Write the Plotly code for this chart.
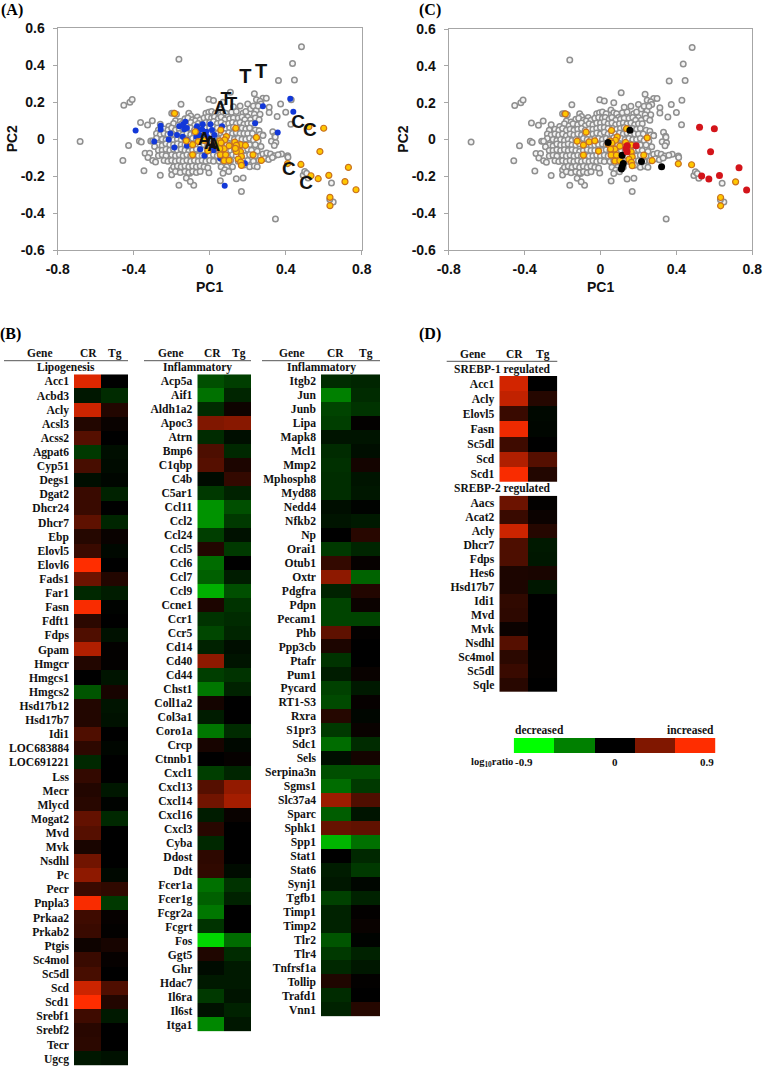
import plotly.graph_objects as go

W, H = 764, 1072

# ---------- scatter data ----------
gray_points = [
(.483,.50),(.436,.41),(.446,.32),(.362,.317),(-.162,.432),(.429,.213),(.40,.146),(.355,.122),(.373,.19),(.313,.173),(.313,.144),
(-.452,.184),(-.42,.2),(-.408,.214),(.109,.254),(.235,.246),(.246,.213),(.28,.222),(.298,.222),(.265,.205),(.27,.19),
(-.004,.216),(.02,.209),(.07,.2),(-.151,.189),(-.2,.14),(-.364,.09),(-.327,.077),(-.302,.1),(.427,.08),(.332,.04),(.343,.018),(.28,.023),(.255,.045),
(.325,-.012),(.348,-.018),(.34,-.034),(.345,.012),(-.682,-.013),(-.427,-.034),(-.457,-.115),(-.37,-.01),(-.36,-.016),(-.31,-.01),
(-.34,-.076),(-.316,-.076),(-.325,-.1),(-.30,-.115),(-.285,-.124),(-.346,-.171),(-.26,-.196),(-.2,-.166),(-.2,-.193),(-.162,-.249),(-.084,-.249),
(-.123,-.21),(-.102,-.229),(-.105,-.184),(-.004,-.182),(.056,-.225),(.167,-.283),(.14,-.214),(.176,-.21),(.346,-.432),(.641,-.238),(.65,-.34),(.632,-.327),
(.492,-.196),(.5,-.175),(.518,-.21),(.51,-.185),(.378,-.08),(.41,-.09),(.412,-.098),
(-.19,.14),(-.175,.135),(-.11,.14),(-.10,.125),(-.065,.12),(-.02,.14),(-.005,.145),(.01,.15),(.03,.14),(.055,.16),(.07,.145),(.085,.14),(.115,.145),(.14,.15),(.16,.18),(.175,.14),(.2,.19),(.19,.15),(.215,.165),(.23,.18),(.245,.155),(.265,.135),(.235,.135),(.255,.18),(.2,.12),(.125,.175),(.095,.12),
(-.18,.1),(-.155,.095),(-.13,.11),(-.115,.115),(-.09,.105),(-.075,.1),(-.05,.105),(-.03,.115),(-.01,.12),(.01,.115),(.025,.12),(.045,.11),(.06,.12),(.08,.105),(.105,.11),(.125,.115),(.15,.115),(.17,.12),(.185,.105),(.215,.105),(.24,.115),(.26,.105),
(-.26,.08),(-.215,.07),(-.19,.085),(-.165,.075),(-.145,.085),(-.12,.08),(-.1,.09),(-.08,.075),(-.06,.085),(-.04,.08),(-.02,.09),(0,.09),(.02,.095),(.04,.085),(.06,.09),(.08,.08),(.1,.085),(.12,.09),(.14,.085),(.16,.09),(.18,.08),(.2,.085),(.22,.085),
(-.27,.05),(-.24,.055),(-.22,.05),(-.2,.06),(-.18,.05),(-.16,.055),(-.14,.05),(-.12,.055),(-.1,.06),(-.08,.05),(-.06,.055),(-.04,.055),(-.02,.06),(0,.065),(.02,.065),(.04,.06),(.065,.06),(.085,.055),(.105,.06),(.125,.065),(.15,.06),(.17,.06),(.19,.055),(.21,.06),(.24,.05),(.26,.045),
(-.28,.03),(-.26,.025),(-.24,.03),(-.22,.025),(-.2,.03),(-.18,.02),(-.16,.03),(-.14,.025),(-.12,.03),(-.1,.025),(-.08,.03),(-.06,.025),(-.04,.03),(-.02,.035),(0,.03),(.02,.04),(.04,.03),(.06,.03),(.08,.03),(.1,.035),(.12,.03),(.14,.035),(.16,.03),(.18,.03),(.2,.03),(.225,.03),(.265,.025),(.28,.02),
(-.28,.005),(-.25,0),(-.23,-.005),(-.21,0),(-.19,-.005),(-.17,0),(-.15,-.005),(-.13,0),(-.11,-.005),(-.09,.005),(-.07,0),(-.05,0),(-.03,.005),(-.01,.005),(.01,0),(.03,.005),(.05,0),(.07,.01),(.09,.005),(.11,.005),(.13,0),(.15,.005),(.17,0),(.19,0),(.21,.005),(.23,-.005),(.255,-.01),
(-.3,-.01),(-.27,-.03),(-.25,-.035),(-.23,-.025),(-.21,-.03),(-.19,-.03),(-.17,-.025),(-.15,-.03),(-.13,-.03),(-.11,-.025),(-.09,-.035),(-.07,-.03),(-.05,-.03),(-.03,-.03),(-.01,-.03),(.01,-.025),(.03,-.03),(.05,-.025),(.07,-.035),(.09,-.03),(.11,-.03),(.13,-.025),(.15,-.03),(.17,-.03),(.19,-.03),(.21,-.03),(.24,-.03),(.27,-.04),
(-.29,-.04),(-.27,-.06),(-.25,-.06),(-.23,-.055),(-.21,-.06),(-.19,-.055),(-.17,-.06),(-.15,-.055),(-.13,-.06),(-.11,-.065),(-.09,-.06),(-.07,-.055),(-.05,-.06),(-.03,-.06),(-.01,-.055),(.01,-.06),(.03,-.055),(.05,-.06),(.07,-.055),(.09,-.06),(.11,-.06),(.13,-.055),(.15,-.06),(.18,-.06),(.2,-.055),(.22,-.06),(.25,-.065),
(-.27,-.09),(-.25,-.085),(-.23,-.09),(-.2,-.085),(-.18,-.09),(-.16,-.085),(-.14,-.09),(-.12,-.085),(-.1,-.09),(-.08,-.085),(-.06,-.09),(-.04,-.09),(-.02,-.085),(0,-.09),(.02,-.085),(.04,-.09),(.06,-.085),(.08,-.09),(.1,-.09),(.12,-.085),(.14,-.09),(.17,-.085),(.19,-.09),(.21,-.085),(.24,-.09),(.28,-.08),(.3,-.075),(.32,-.08),(.34,-.09),(.36,-.085),
(-.24,-.115),(-.22,-.12),(-.2,-.115),(-.18,-.12),(-.16,-.115),(-.14,-.12),(-.12,-.115),(-.1,-.12),(-.08,-.115),(-.06,-.12),(-.04,-.115),(-.02,-.12),(0,-.115),(.02,-.12),(.05,-.12),(.07,-.115),(.09,-.12),(.11,-.115),(.15,-.12),(.2,-.115),(.23,-.12),(.26,-.115),(.29,-.105),(.31,-.11),(.33,-.1),
(-.19,-.15),(-.17,-.145),(-.15,-.15),(-.13,-.145),(-.11,-.15),(-.09,-.145),(-.07,-.15),(-.05,-.145),(-.03,-.15),(-.01,-.155),(.06,-.15),(.09,-.15),(.12,-.15),(.18,-.14),(.21,-.15),(.235,-.145),(.25,-.15),
(-.18,-.175),(-.155,-.18),(-.13,-.175),(-.11,-.18),(-.09,-.175),(-.07,-.18),(-.05,-.175),(.08,-.165),(.07,-.185),(.1,-.175),
]
orange_points = [
(-.185,.139),(-.076,.04),(-.123,-.009),(-.09,-.03),(-.06,-.013),(-.03,-.007),(-.09,-.085),(-.01,-.063),(.058,.049),(.137,.059),(.246,.009),
(.088,.014),(.079,-.004),(.053,-.009),(.04,-.025),(.06,-.02),(.076,-.052),(.053,-.052),(.056,-.085),(.084,-.085),(.076,-.117),(.102,-.115),(.102,-.036),(.132,-.016),(.162,-.03),(.142,-.034),(.162,-.067),(.167,-.094),(.15,-.108),(.163,-.124),(.167,-.142),(.228,-.085),(.272,-.115),(.41,-.132),(.48,-.137),(.712,-.23),(.633,-.315),(.633,-.36),
]
red_points = [
(.522,.067),(.6,.059),(.58,-.067),(.73,-.153),(.627,-.196),(.571,-.214),(.533,-.198),(.77,-.274),(.14,-.034),(.188,-.034),(.14,-.067),(.135,-.05),
]
black_points = [
(.155,.05),(.04,-.016),(.114,-.085),(.12,-.13),(.114,-.148),(.11,-.16),(.216,-.119),(.322,-.148),
]
blue_points = [
(-.39,.047),(-.292,-.013),(-.258,.072),(-.258,.052),(-.207,.03),(-.216,-.002),(-.172,.022),(-.186,-.045),(-.16,.07),(-.14,.08),(-.128,.094),(-.134,.054),(-.12,.06),(-.142,.013),(-.12,-.005),(-.12,-.036),(-.067,.07),(-.037,.08),(-.067,.049),(-.04,.052),(.004,.08),(.012,.049),(-.018,.04),(-.07,.013),(-.053,.022),(-.014,.013),(.025,.022),(.065,.07),(-.028,-.09),(-.05,-.054),(.056,-.105),(.079,-.252),(.185,-.13),(.239,.086),(.28,.178),(.424,.218),(.44,.148),(.358,.036),(.04,-.04),(.02,-.06),
]
letter_text = ["T","T","T","T","A","A","A","A","C","C","C","C"]
letter_x = [.188,.27,.086,.116,.056,-.028,.004,.021,.466,.527,.417,.508]
letter_y = [.333,.358,.21,.182,.162,-.005,-.027,-.041,.088,.043,-.171,-.245]
letter_size = [20,20,18,18,18,18,18,18,19,19,19,19]

x_ticks = [-.8,-.4,0,.4,.8]
x_labels = ["-0.8","-0.4","0","0.4","0.8"]
y_ticks = [-.6,-.4,-.2,0,.2,.4,.6]
y_labels = ["-0.6","-0.4","-0.2","0","0.2","0.4","0.6"]

# ---------- heatmap data ----------
columns = ["CR","Tg"]
lipo_genes = ["Acc1","Acbd3","Acly","Acsl3","Acss2","Agpat6","Cyp51","Degs1","Dgat2","Dhcr24","Dhcr7","Ebp","Elovl5","Elovl6","Fads1","Far1","Fasn","Fdft1","Fdps","Gpam","Hmgcr","Hmgcs1","Hmgcs2","Hsd17b12","Hsd17b7","Idi1","LOC683884","LOC691221","Lss","Mecr","Mlycd","Mogat2","Mvd","Mvk","Nsdhl","Pc","Pecr","Pnpla3","Prkaa2","Prkab2","Ptgis","Sc4mol","Sc5dl","Scd","Scd1","Srebf1","Srebf2","Tecr","Ugcg"]
lipo_cr = [.78,-.08,.72,.12,.3,-.2,.25,-.05,.2,.2,.33,.13,.2,.9,.38,-.14,.88,.15,.28,.62,.12,0,-.3,.12,.12,.28,.16,-.14,.18,.12,.14,.35,.3,.09,.4,.5,.2,.88,.22,.2,.05,.2,.25,.72,.9,.22,.14,.15,-.08]
lipo_tg = [0,-.15,.12,.03,0,-.05,-.04,-.02,-.12,0,-.13,.03,-.03,0,.12,-.1,-.01,0,-.06,.01,.01,-.07,.08,-.07,-.06,0,-.02,0,0,-.08,-.01,-.14,0,0,0,-.03,.17,-.2,.02,.01,.08,.02,0,.28,.12,-.09,0,0,-.06]

inf1_genes = ["Acp5a","Aif1","Aldh1a2","Apoc3","Atrn","Bmp6","C1qbp","C4b","C5ar1","Ccl11","Ccl2","Ccl24","Ccl5","Ccl6","Ccl7","Ccl9","Ccne1","Ccr1","Ccr5","Cd14","Cd40","Cd44","Chst1","Coll1a2","Col3a1","Coro1a","Crcp","Ctnnb1","Cxcl1","Cxcl13","Cxcl14","Cxcl16","Cxcl3","Cyba","Ddost","Ddt","Fcer1a","Fcer1g","Fcgr2a","Fcgrt","Fos","Ggt5","Ghr","Hdac7","Il6ra","Il6st","Itga1"]
inf1_cr = [-.28,-.4,-.15,.45,-.15,.27,.3,-.04,-.2,-.52,-.52,-.22,.12,-.38,-.34,-.62,.1,-.18,-.25,-.12,.5,-.22,-.42,.07,-.1,-.42,.08,0,-.22,.3,.4,-.1,.14,-.14,.16,.17,-.4,-.34,-.42,-.18,-.76,.11,-.04,-.09,-.2,-.06,-.48]
inf1_tg = [-.22,-.13,.05,.48,-.05,-.14,.1,.18,-.12,-.28,-.2,-.06,-.2,0,-.1,-.28,-.18,-.15,-.13,-.05,-.07,-.18,-.12,0,0,-.15,-.03,.02,-.13,.52,.58,.03,0,0,0,-.04,-.18,-.12,0,0,-.38,-.15,-.09,-.09,-.07,-.12,-.08]

inf2_genes = ["Itgb2","Jun","Junb","Lipa","Mapk8","Mcl1","Mmp2","Mphosph8","Myd88","Nedd4","Nfkb2","Np","Orai1","Otub1","Oxtr","Pdgfra","Pdpn","Pecam1","Phb","Ppp3cb","Ptafr","Pum1","Pycard","RT1-S3","Rxra","S1pr3","Sdc1","Sels","Serpina3n","Sgms1","Slc37a4","Sparc","Sphk1","Spp1","Stat1","Stat6","Synj1","Tgfb1","Timp1","Timp2","Tlr2","Tlr4","Tnfrsf1a","Tollip","Trafd1","Vnn1"]
inf2_cr = [-.15,-.45,-.24,-.22,-.07,-.15,-.17,-.16,-.16,-.05,-.07,0,-.2,.18,.5,-.12,-.24,-.24,.33,.1,-.18,-.1,-.23,-.26,.13,-.2,-.38,-.05,-.28,-.38,.55,-.33,.36,-.64,0,-.1,-.08,-.23,-.12,-.12,-.3,-.2,-.14,.11,-.15,-.12]
inf2_tg = [-.13,-.15,-.18,.01,-.07,-.05,.07,-.07,-.08,-.01,-.09,.14,-.13,.02,-.35,.12,.04,-.24,.01,0,0,.03,-.09,.02,-.02,.03,-.15,.07,-.28,-.2,.28,-.07,.34,-.4,-.14,-.2,-.02,-.12,.01,.03,-.01,-.12,-.08,.01,0,.13]

s1_genes = ["Acc1","Acly","Elovl5","Fasn","Sc5dl","Scd","Scd1"]
s1_cr = [.74,.68,.2,.84,.22,.62,.88]
s1_tg = [0,.13,-.03,-.02,0,.3,.12]

s2_genes = ["Aacs","Acat2","Acly","Dhcr7","Fdps","Hes6","Hsd17b7","Idi1","Mvd","Mvk","Nsdhl","Sc4mol","Sc5dl","Sqle"]
s2_cr = [.38,.2,.72,.27,.27,.1,.1,.17,.16,.04,.3,.15,.2,.14]
s2_tg = [.01,.04,.13,-.09,-.08,.09,-.08,0,0,0,0,.01,.01,0]

legend_values = [-.9,-.45,0,.45,.9]

# ---------- styling ----------
SERIF = "Liberation Serif"
SANS = "Liberation Sans"
SCALE = [[0,"#00FF00"],[.5,"#000000"],[1,"#FF2D00"]]
AXC = "#A6A6A6"

def px_x(p): return p / W
def px_y(p): return 1 - p / H

fig = go.Figure()
layout = dict(width=W, height=H, margin=dict(l=0,r=0,t=0,b=0,pad=0,autoexpand=False), autosize=False,
              paper_bgcolor="white", plot_bgcolor="white", showlegend=False,
              hovermode=False)
annos, shapes = [], []

def text(x, y, s, size=11.5, anchor="center", family=SERIF, color="#111", angle=0):
    annos.append(dict(xref="paper", yref="paper", x=px_x(x), y=px_y(y), text=s,
                      showarrow=False, xanchor=anchor, yanchor="middle", textangle=angle,
                      font=dict(family=family, size=size, color=color), borderpad=0, borderwidth=0))

axis_no = [0]
def new_axes():
    axis_no[0] += 1
    n = axis_no[0]
    return ("x%d" % n, "y%d" % n, "xaxis%d" % n, "yaxis%d" % n)

def scatter_panel(x0, x1, y0, y1, layers):
    xa, ya, xk, yk = new_axes()
    for pts, style in layers:
        fig.add_trace(go.Scatter(x=[p[0] for p in pts], y=[p[1] for p in pts], mode="markers",
                                 marker=style, xaxis=xa, yaxis=ya, cliponaxis=False))
    common = dict(showgrid=False, zeroline=False, showline=True, mirror=True, linecolor=AXC, linewidth=1.3,
                  ticks="outside", ticklen=4, tickcolor=AXC, tickwidth=1.2, automargin=False,
                  tickfont=dict(family=SANS, size=14, color="#111", weight="bold"))
    layout[xk] = dict(common, domain=[px_x(x0), px_x(x1)], range=[-.8,.8], tickmode="array",
                      tickvals=x_ticks, ticktext=x_labels, anchor=ya, ticklabelstandoff=2)
    layout[yk] = dict(common, domain=[px_y(y1), px_y(y0)], range=[-.6,.6], tickmode="array",
                      tickvals=y_ticks, ticktext=y_labels, anchor=xa, ticklabelstandoff=5)
    text((x0 + x1) / 2 - 0.5, 287, "<b>PC1</b>", size=14, family=SANS)
    text(x0 - 45.5, (y0 + y1) / 2, "<b>PC2</b>", size=14, family=SANS, angle=-90)
    return xa, ya

def heat_panel(genes, cr, tg, x0, x1, y0, y1):
    xa, ya, xk, yk = new_axes()
    fig.add_trace(go.Heatmap(z=[[a,b] for a,b in zip(cr,tg)], x=columns, y=genes, xaxis=xa, yaxis=ya,
                             colorscale=SCALE, zmin=-.9, zmax=.9, showscale=False))
    layout[xk] = dict(domain=[px_x(x0), px_x(x1)], anchor=ya, showticklabels=False, ticks="",
                      showgrid=False, zeroline=False, showline=False, type="category", automargin=False)
    layout[yk] = dict(domain=[px_y(y1), px_y(y0)], anchor=xa, autorange="reversed", type="category",
                      tickmode="array", tickvals=genes, ticktext=genes, ticks="", showline=False,
                      showgrid=False, zeroline=False, ticklabelstandoff=4, automargin=False,
                      tickfont=dict(family=SERIF, size=11.6, color="#111", weight="bold"))

gray_style = dict(size=5.5, color="#F4F4F4", line=dict(color="#8F8F8F", width=1.5))
orange_style = dict(size=6, color="#FFC800", line=dict(color="#C9701E", width=1.2))
blue_style = dict(size=6, color="#1238D8", line=dict(width=0))
red_style = dict(size=7, color="#D3141A", line=dict(width=0))
black_style = dict(size=7, color="#000000", line=dict(width=0))

# Panel A
xa, ya = scatter_panel(57.7, 361.7, 28.3, 250, [
    (gray_points, gray_style), (blue_points, blue_style), (orange_points + red_points, orange_style)])
fig.add_trace(go.Scatter(x=letter_x, y=letter_y, text=letter_text, mode="text", xaxis=xa, yaxis=ya,
                         textposition="middle center",
                         textfont=dict(family=SANS, size=letter_size, color="#111", weight="bold")))
# Panel C
scatter_panel(448.7, 752.3, 29, 250, [
    (gray_points, gray_style), (orange_points, orange_style), (black_points, black_style), (red_points, red_style)])

# Panel B heatmaps
heat_panel(lipo_genes, lipo_cr, lipo_tg, 74, 128, 374.3, 1065.7)
heat_panel(inf1_genes, inf1_cr, inf1_tg, 197.3, 251, 374.3, 1031.5)
heat_panel(inf2_genes, inf2_cr, inf2_tg, 321, 380, 374.3, 1016.5)
# Panel D heatmaps
heat_panel(s1_genes, s1_cr, s1_tg, 499.3, 557.3, 376, 481.7)
heat_panel(s2_genes, s2_cr, s2_tg, 499.3, 557.3, 495.7, 692)

# Colour key
xa, ya, xk, yk = new_axes()
fig.add_trace(go.Heatmap(z=[legend_values], x=legend_values, y=["key"], xaxis=xa, yaxis=ya,
                         colorscale=SCALE, zmin=-.9, zmax=.9, showscale=False))
layout[xk] = dict(domain=[px_x(513.7), px_x(715.3)], anchor=ya, type="category", showticklabels=False, ticks="", showgrid=False, zeroline=False)
layout[yk] = dict(domain=[px_y(753.3), px_y(738)], anchor=xa, type="category", showticklabels=False, ticks="", showgrid=False, zeroline=False)

# Headers
def header(gx, cx, tx, lx0, lx1, hy, ly):
    text(gx, hy, "<b>Gene</b>")
    text(cx, hy, "<b>CR</b>")
    text(tx, hy, "<b>Tg</b>")
    shapes.append(dict(type="line", xref="paper", yref="paper", x0=px_x(lx0), x1=px_x(lx1),
                       y0=px_y(ly), y1=px_y(ly), line=dict(color="#555", width=1)))

header(40, 88, 115, 4, 128, 353.3, 360.7)
header(170.7, 212, 238.7, 144, 251, 353.3, 360.7)
header(291.7, 335.7, 365.7, 262, 380, 353.3, 360.7)
header(473.3, 514.3, 543.3, 446.7, 557.3, 354, 361.3)
text(66, 367.3, "<b>Lipogenesis</b>")
text(197.7, 367.3, "<b>Inflammatory</b>")
text(321, 367.3, "<b>Inflammatory</b>")
text(502.3, 369, "<b>SREBP-1 regulated</b>")
text(502.3, 488.3, "<b>SREBP-2 regulated</b>")

# Panel letters
text(1, 10, "<b>(A)</b>", size=16, anchor="left", color="black")
text(0, 334, "<b>(B)</b>", size=16, anchor="left", color="black")
text(419, 10, "<b>(C)</b>", size=16, anchor="left", color="black")
text(419, 334, "<b>(D)</b>", size=16, anchor="left", color="black")

# Key labels
text(515, 730, "<b>decreased</b>", anchor="left")
text(714, 730, "<b>increased</b>", anchor="right")
text(513, 762, "<b>log<sub>10</sub>ratio</b>", size=10.5, anchor="right")
text(524, 762, "<b>-0.9</b>", size=11)
text(615, 762, "<b>0</b>", size=11)
text(707, 762, "<b>0.9</b>", size=11)

layout["annotations"] = annos
layout["shapes"] = shapes
fig.update_layout(**layout)
fig.write_html("out.html", config={"displayModeBar": False},
               post_script="document.body.style.margin='0';document.body.style.overflow='hidden';")
